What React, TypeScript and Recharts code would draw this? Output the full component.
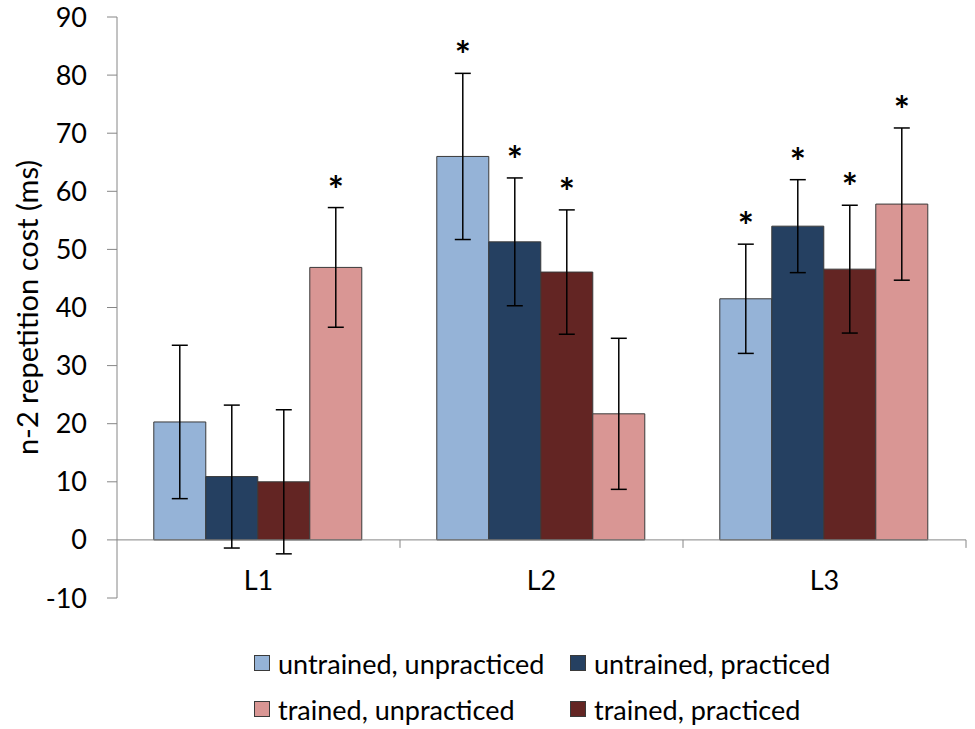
import { BarChart, Bar, XAxis, YAxis, ErrorBar, LabelList, ReferenceLine } from 'recharts';

const categories = ['L1', 'L2', 'L3'];

const untrainedUnpracticed = [20.3, 66.0, 41.5];
const untrainedUnpracticedErr = [13.2, 14.3, 9.4];
const untrainedUnpracticedSig = [false, true, true];

const untrainedPracticed = [10.9, 51.3, 54.0];
const untrainedPracticedErr = [12.3, 11.0, 8.0];
const untrainedPracticedSig = [false, true, true];

const trainedPracticed = [10.0, 46.1, 46.6];
const trainedPracticedErr = [12.4, 10.7, 11.0];
const trainedPracticedSig = [false, true, true];

const trainedUnpracticed = [46.9, 21.7, 57.8];
const trainedUnpracticedErr = [10.3, 13.0, 13.1];
const trainedUnpracticedSig = [true, false, true];

const yTicks = [-10, 0, 10, 20, 30, 40, 50, 60, 70, 80, 90];

const FONT = "Lato, 'Open Sans', sans-serif";

// bar order inside each group
const series = [
  { key: 'uu', name: 'untrained, unpracticed', values: untrainedUnpracticed, errors: untrainedUnpracticedErr, stars: untrainedUnpracticedSig, color: '#95B3D7' },
  { key: 'up', name: 'untrained, practiced', values: untrainedPracticed, errors: untrainedPracticedErr, stars: untrainedPracticedSig, color: '#254061' },
  { key: 'tp', name: 'trained, practiced', values: trainedPracticed, errors: trainedPracticedErr, stars: trainedPracticedSig, color: '#632523' },
  { key: 'tu', name: 'trained, unpracticed', values: trainedUnpracticed, errors: trainedUnpracticedErr, stars: trainedUnpracticedSig, color: '#D99694' },
];

// legend order (2 x 2)
const legendOrder = ['uu', 'up', 'tu', 'tp'];

const data = categories.map((cat, i) => {
  const row: Record<string, string | number> = { cat };
  series.forEach((s) => {
    row[s.key] = s.values[i];
    row[`${s.key}Err`] = s.errors[i];
  });
  return row;
});

type Series = (typeof series)[number];

const STAR_SIZE = 38;

const makeStar = (s: Series) => (props: any) => {
  const index = props.index;
  if (!s.stars[index]) return null;
  const vb = props.viewBox ?? props;
  const pxPerUnit = Math.abs(vb.height) / s.values[index];
  const top = Math.min(vb.y, vb.y + vb.height);
  const errTop = top - s.errors[index] * pxPerUnit;
  const cy = errTop - 29;
  return (
    <text x={vb.x + vb.width / 2} y={cy + STAR_SIZE * 0.66} textAnchor="middle" fontSize={STAR_SIZE} fontWeight="bold" fill="#000" style={{ fontFamily: FONT }}>
      *
    </text>
  );
};

const CategoryAxis = (props: any) => {
  const { x1, y1, x2 } = props;
  const step = (x2 - x1) / categories.length;
  return (
    <g>
      <line x1={x1} y1={y1} x2={x2} y2={y1} stroke="#868686" strokeWidth={1} />
      {categories.map((_, k) => (
        <line key={`t${k}`} x1={x1 + (k + 1) * step} y1={y1} x2={x1 + (k + 1) * step} y2={y1 + 8} stroke="#868686" strokeWidth={1} />
      ))}
      {categories.map((c, k) => (
        <text key={c} x={x1 + (k + 0.5) * step} y={y1 + 50} textAnchor="middle" fontSize={27} fill="#000" style={{ fontFamily: FONT }}>
          {c}
        </text>
      ))}
    </g>
  );
};

const YLabel = (props: any) => {
  const vb = props.viewBox;
  const cx = vb.x + 26;
  const cy = vb.y + vb.height / 2;
  return (
    <text x={cx} y={cy} transform={`rotate(-90, ${cx}, ${cy})`} textAnchor="middle" dominantBaseline="central" fontSize={29} fill="#000" style={{ fontFamily: FONT }}>
      n-2 repetition cost (ms)
    </text>
  );
};

const colorOf = (key: string) => series.find((s) => s.key === key)!;

export default function App() {
  return (
    <div style={{ position: 'absolute', left: 0, top: 0, width: 975, height: 729, background: '#fff', fontFamily: FONT }}>
      <BarChart width={975} height={729} data={data} margin={{ top: 17, right: 9, bottom: 131, left: 0 }} barCategoryGap="13%" barGap={0}>
        <XAxis dataKey="cat" hide />
        <YAxis
          width={117}
          domain={[-10, 90]}
          ticks={yTicks}
          interval={0}
          allowDataOverflow
          axisLine={{ stroke: '#868686' }}
          tickLine={{ stroke: '#868686' }}
          tickSize={10}
          tickMargin={20}
          tick={{ fill: '#000', fontSize: 27, fontFamily: FONT }}
          label={<YLabel />}
        />
        <ReferenceLine y={0} shape={CategoryAxis} />
        {series.map((s) => (
          <Bar key={s.key} dataKey={s.key} name={s.name} fill={s.color} stroke="#3a3a3a" strokeWidth={1} isAnimationActive={false}>
            <ErrorBar dataKey={`${s.key}Err`} width={8} stroke="#000" strokeWidth={1.5} direction="y" />
            <LabelList content={makeStar(s)} />
          </Bar>
        ))}
      </BarChart>
      <div style={{ position: 'absolute', left: 254, top: 645, display: 'grid', gridTemplateColumns: '316px 340px', rowGap: 10, fontSize: 27, color: '#000', whiteSpace: 'nowrap' }}>
        {legendOrder.map((k) => {
          const s = colorOf(k);
          return (
            <div key={k} style={{ display: 'flex', alignItems: 'center', height: 36 }}>
              <span style={{ width: 16, height: 16, flexShrink: 0, background: s.color, border: '1px solid #3a3a3a', marginRight: 8, boxSizing: 'border-box' }} />
              <span>{s.name}</span>
            </div>
          );
        })}
      </div>
    </div>
  );
}
